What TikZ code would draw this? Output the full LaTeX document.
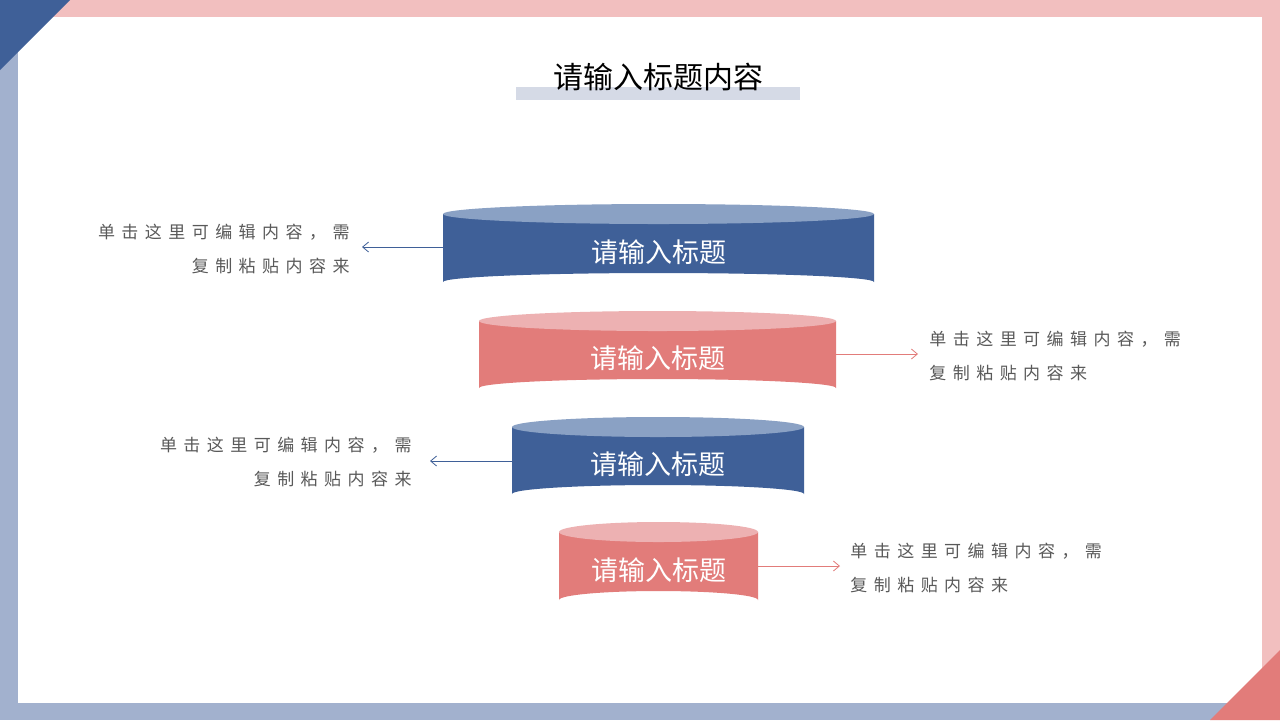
\documentclass[tikz,border=0pt]{standalone}
\usepackage{fontspec}
\setmainfont{Noto Sans CJK SC}
\newfontfamily\cjkwide[LetterSpace=38]{Noto Sans CJK SC}
\usetikzlibrary{positioning,arrows.meta}
\definecolor{tongblue}{HTML}{3F6098}
\definecolor{tongbluetop}{HTML}{8AA1C4}
\definecolor{tongpink}{HTML}{E27C7A}
\definecolor{tongpinktop}{HTML}{EDB1B2}
\definecolor{framegrey}{HTML}{A2B1CE}
\definecolor{framepink}{HTML}{F2BFBF}
\definecolor{titlebar}{HTML}{D5DAE6}
\definecolor{textgrey}{HTML}{595959}
% one cylinder: name, centre x, half width, top y, bottom y, body colour, top colour
\newcommand{\tong}[7]{%
  \fill[#6] (#2-#3,#4) -- (#2-#3,#5) arc[start angle=180,end angle=360,x radius=#3,y radius=9]
    -- (#2+#3,#4) -- cycle;
  \fill[#7] (#2,#4) ellipse[x radius=#3,y radius=10];
  \node[tongtexte, minimum width=2*#3*0.5pt, minimum height=(#5-#4)*0.5pt] (#1) at (#2,{(#4+#5)/2+4}) {请输入标题};
}
\begin{document}
\begin{tikzpicture}[x=0.5pt,y=-0.5pt]
  \tikzset{
    tongtexte/.style={inner sep=0pt,text=white,font=\fontsize{13.5}{16}\selectfont},
    legende/.style={inner sep=0pt,text=textgrey,font=\cjkwide\fontsize{8.5}{17}\selectfont},
    fleche/.style={-{Straight Barb[length=3pt,width=5pt]},line width=0.4pt},
  }
  \useasboundingbox (0,0) rectangle (1280,720);
  % frame
  \fill[framepink] (0,0) rectangle (1280,720);
  \fill[framegrey] (0,0) rectangle (18,720);
  \fill[framegrey] (0,703) rectangle (1280,720);
  \fill[white] (18,17) rectangle (1262,703);
  \fill[tongblue] (0,0) -- (70,0) -- (0,70) -- cycle;
  \fill[tongpink] (1210,720) -- (1280,650) -- (1280,720) -- cycle;
  % title
  \fill[titlebar] (516,87) rectangle (800,100);
  \node[font=\fontsize{15}{18}\selectfont,text=black] (titre) at (658,77) {请输入标题内容};
  % cylinders
  \tong{t1}{658.5}{215.5}{214}{282}{tongblue}{tongbluetop}
  \tong{t2}{657.5}{178.5}{321}{388}{tongpink}{tongpinktop}
  \tong{t3}{658}{146}{427}{494}{tongblue}{tongbluetop}
  \tong{t4}{658.5}{99.5}{532}{600}{tongpink}{tongpinktop}
  % captions
  \node[legende,anchor=east,align=right] (l1) at (350,249) {单击这里可编辑内容，需\\复制粘贴内容来};
  \node[legende,anchor=west,align=left] (l2) at (929,356) {单击这里可编辑内容，需\\复制粘贴内容来};
  \node[legende,anchor=east,align=right] (l3) at (412,462) {单击这里可编辑内容，需\\复制粘贴内容来};
  \node[legende,anchor=west,align=left] (l4) at (850,568) {单击这里可编辑内容，需\\复制粘贴内容来};
  \draw[fleche,draw=tongblue] (t1.west |- 0,247) -- (362,247);
  \draw[fleche,draw=tongpink] (t2.east |- 0,354) -- (918,354);
  \draw[fleche,draw=tongblue] (t3.west |- 0,461) -- (430,461);
  \draw[fleche,draw=tongpink] (t4.east |- 0,566) -- (840,566);
\end{tikzpicture}
\end{document}
